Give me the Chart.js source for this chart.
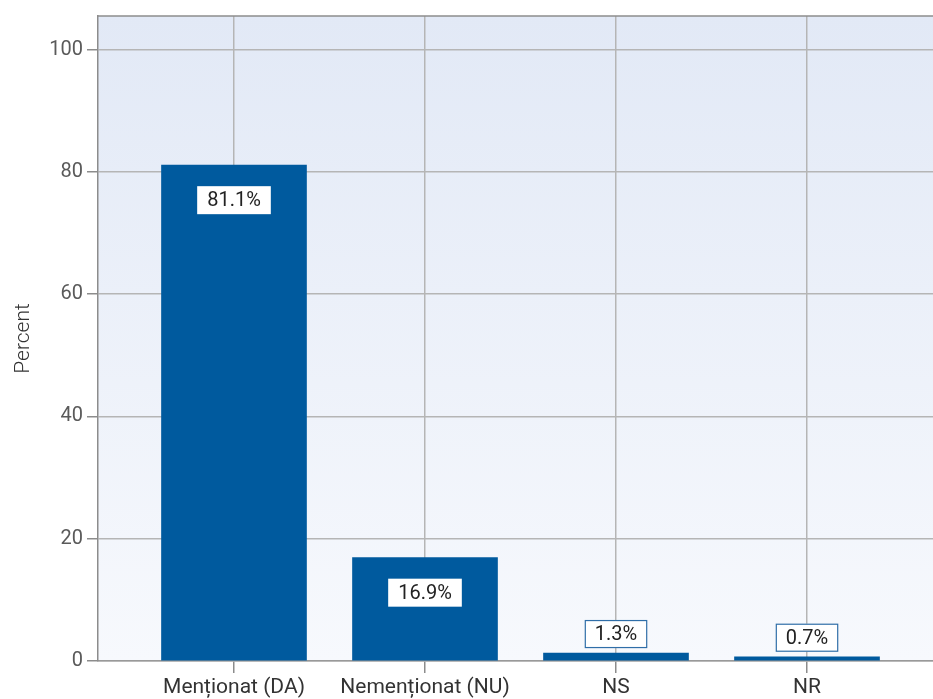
<!DOCTYPE html>
<html><head><meta charset="utf-8">
<script src="https://cdn.jsdelivr.net/npm/chart.js@4"></script>
<style>html,body{margin:0;padding:0;overflow:hidden;background:#fff}#wrap{width:960px;height:699px}</style>
</head><body><div id="wrap"><canvas id="c"></canvas></div>
<script>
const categories = ['Menționat (DA)', 'Nemenționat (NU)', 'NS', 'NR'];
const values = [81.1, 16.9, 1.3, 0.7];
const yTicks = [0, 20, 40, 60, 80, 100];

const FONT = 'Roboto';
const bgPlugin = {
  id: 'bg',
  beforeDraw(chart) {
    const {ctx, chartArea: a} = chart;
    const g = ctx.createLinearGradient(0, a.top, 0, a.bottom);
    g.addColorStop(0, '#e2e9f6');
    g.addColorStop(1, '#f7f9fd');
    ctx.save(); ctx.fillStyle = g; ctx.fillRect(a.left, a.top, a.right - a.left, a.bottom - a.top); ctx.restore();
  },
  afterDraw(chart) {
    const {ctx, chartArea: a} = chart;
    ctx.save(); ctx.strokeStyle = '#8c8c8c'; ctx.lineWidth = 1.5;
    ctx.beginPath(); ctx.moveTo(a.left, a.top); ctx.lineTo(a.right, a.top); ctx.stroke(); ctx.restore();
  }
};
const labelPlugin = {
  id: 'lbl',
  afterDatasetsDraw(chart) {
    const {ctx} = chart;
    const meta = chart.getDatasetMeta(0);
    ctx.save();
    ctx.font = '20px ' + FONT;
    ctx.textAlign = 'center'; ctx.textBaseline = 'middle';
    meta.data.forEach((el, i) => {
      const txt = values[i].toFixed(1) + '%';
      const w = ctx.measureText(txt).width + 20, h = 28;
      const inside = (el.base - el.y) > 50;
      let top = inside ? el.y + 21 : el.y - 5 - h;
      const left = el.x - w / 2;
      ctx.fillStyle = '#ffffff';
      ctx.fillRect(left, top, w, h);
      if (!inside) { ctx.strokeStyle = '#2f6ea8'; ctx.lineWidth = 1.2; ctx.strokeRect(left + 0.5, top + 0.5, w - 1, h - 1); }
      ctx.fillStyle = '#222';
      ctx.fillText(txt, el.x, top + h / 2 + 1);
    });
    ctx.restore();
  }
};

new Chart(document.getElementById('c'), {
  type: 'bar',
  data: {
    datasets: [{
      data: values.map((v, i) => ({x: i, y: v})),
      backgroundColor: '#005a9e',
      barThickness: 145
    }]
  },
  options: {
    responsive: true, maintainAspectRatio: false, animation: false,
    layout: {padding: {top: 15, right: 17, left: 0, bottom: 0}},
    plugins: {legend: {display: false}, tooltip: {enabled: false}},
    scales: {
      x: {
        type: 'linear', min: -0.712, max: 3.712, offset: false,
        afterFit(s) { s.height = 38; },
        afterBuildTicks(s) { s.ticks = categories.map((c, i) => ({value: i})); },
        ticks: {
          autoSkip: false, maxRotation: 0,
          padding: 2, color: '#333', font: {family: FONT, size: 21},
          callback: v => categories[v] !== undefined ? categories[v] : ''
        },
        grid: {offset: false, color: '#b5b5b5', lineWidth: 1.5, tickLength: 12, tickColor: '#8c8c8c'},
        border: {color: '#999999', width: 1.5}
      },
      y: {
        min: 0, max: 105.5,
        afterFit(s) { s.width = 98; },
        afterBuildTicks(s) { s.ticks = yTicks.map(v => ({value: v})); },
        ticks: {color: '#5a5a5a', font: {family: FONT, size: 20}, padding: 4},
        title: {display: true, text: 'Percent', color: '#333', font: {family: FONT, size: 21, weight: 300}, padding: {top: 11, bottom: 0}},
        grid: {color: '#b5b5b5', lineWidth: 1.5, tickLength: 11, tickColor: '#8c8c8c'},
        border: {color: '#8c8c8c', width: 1.5}
      }
    }
  },
  plugins: [bgPlugin, labelPlugin]
});
</script></body></html>
